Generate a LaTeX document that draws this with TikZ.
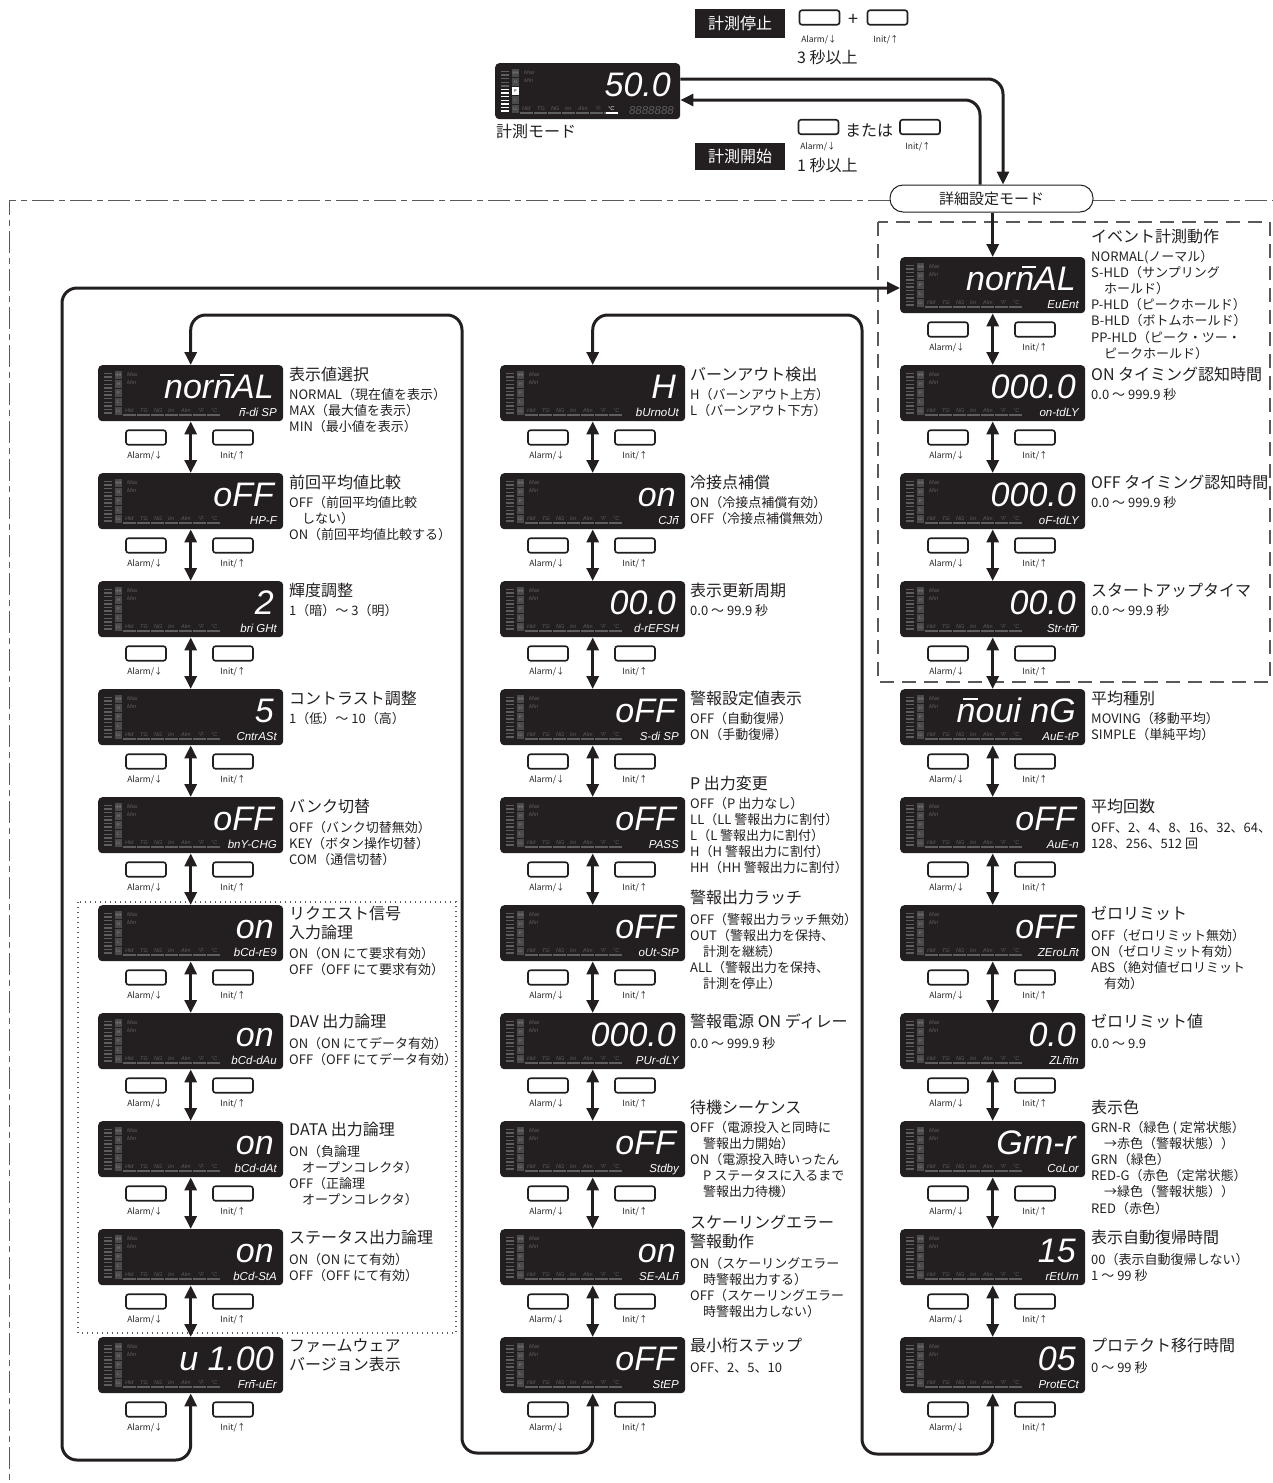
\documentclass[tikz,border=0pt]{standalone}
\usepackage{fontspec}
\setmainfont{Noto Sans CJK JP}
\newfontfamily\segfont{Liberation Sans}
\usetikzlibrary{arrows.meta}
\definecolor{ink}{HTML}{231F20}
\definecolor{lcdbg}{HTML}{231F20}
\definecolor{lcdg}{HTML}{5E5E5E}
\definecolor{indf}{HTML}{4A4A4A}
\definecolor{framec}{HTML}{58595B}
\newcommand\segm[1]{\ooalign{#1\cr\hidewidth\kern0.25em\rule[0.65em]{0.42em}{0.07em}\hidewidth\cr}}
\newcommand\indx{\hspace*{1em}}
\tikzset{
 lcdbox/.style={fill=lcdbg, rounded corners=4pt, minimum width=185pt, minimum height=56pt, inner sep=0pt, anchor=north west},
 bigval/.style={text=white, font=\segfont\itshape\fontsize{34}{34}\selectfont, inner sep=0pt, anchor=base east},
 subval/.style={text=white, font=\segfont\itshape\fontsize{11.5}{11.5}\selectfont, inner sep=0pt, anchor=base east},
 indbox/.style={fill=indf, minimum width=7pt, minimum height=7.5pt, inner sep=0pt, text=lcdg!70!white, font=\segfont\fontsize{4}{4}\selectfont},
 lcdsm/.style={text=lcdg, font=\segfont\itshape\fontsize{5.5}{5.5}\selectfont, inner sep=0pt},
 keybtn/.style={draw=ink, line width=1.6pt, fill=white, rounded corners=2.5pt, minimum width=40pt, minimum height=14.5pt, inner sep=0pt},
 keylab/.style={text=ink, font=\fontsize{8.5}{8.5}\selectfont, inner sep=0pt},
 ttl/.style={text=ink, font=\fontsize{16}{19}\selectfont, align=left, inner sep=0pt, anchor=north west},
 dsc/.style={text=ink, font=\fontsize{13}{16.2}\selectfont, align=left, inner sep=0pt, anchor=north west},
 flow/.style={draw=ink, line width=3pt, rounded corners=15pt},
 dbl/.style={draw=ink, line width=3pt, <->},
 blk/.style={fill=ink, text=white, font=\fontsize{16}{16}\selectfont, minimum width=90pt, minimum height=29pt, inner sep=0pt},
 lbl/.style={text=ink, font=\fontsize{16}{16}\selectfont, inner sep=0pt},
 dashdot/.style={draw=framec, line width=1pt, dash pattern=on 22pt off 5pt on 6pt off 5pt},
}
\newcommand\lcdx[5]{%
 \node[lcdbox] (#1) at (#2,#3) {};
 \begin{scope}[shift={(#2,#3)}]
  \foreach \k in {0,...,11}{\draw[lcdg, line width=1.5pt] (6,{8.5+3.6*\k}) -- (14,{8.5+3.6*\k});}
  \foreach \lab [count=\k from 0] in {HH,H,P,L,LL}{\node[indbox] (#1-i\k) at (20.5,{10+9*\k}) {\lab};}
  \node[lcdsm, anchor=west] (#1-mx) at (29,9.5) {Max};
  \node[lcdsm, anchor=west] (#1-mn) at (29,17.5) {Min};
  \foreach \lab/\xx [count=\k] in {Hld/27,TG/42,NG/56,Ini/70,Alm/83,°F/100,°C/113}{\node[lcdsm, anchor=base west] (#1-b\k) at (\xx,47) {\lab};}
  \draw[lcdg, line width=1.3pt, dash pattern=on 12.5pt off 1.5pt] (25,50) -- (123,50);
  \node[bigval] (#1-v) at (176,33) {#4};
  \node[subval] (#1-s) at (179,51.5) {#5};
 \end{scope}}
\newcommand\unitx[5]{\lcdx{#1}{#2}{#3}{#4}{#5}%
 \node[keybtn] (#1-ka) at ({#2+48},{#3+72.5}) {};
 \node[keybtn] (#1-kb) at ({#2+135},{#3+72.5}) {};
 \node[keylab] (#1-la) at ({#2+47},{#3+91}) {Alarm/↓};
 \node[keylab] (#1-lb) at ({#2+135},{#3+91}) {Init/↑};}
\newcommand\ttlx[4]{\node[ttl] (#1) at (#2,{#3-8}) {\rule{0pt}{14pt}#4};}
\newcommand\dscx[4]{\node[dsc] (#1) at (#2,{#3-6.5}) {\rule{0pt}{11.4pt}#4};}

\begin{document}
\begin{tikzpicture}[x=1pt,y=-1pt,>={Triangle[length=13pt,width=12pt]}]
\useasboundingbox (0,0) rectangle (1273,1483);

% ---------- frames ----------
\draw[dashdot] (890,200) -- (9,200) -- (9,1483);
\draw[dashdot] (1093,200) -- (1273,200);
\draw[draw=framec, line width=1.2pt, dash pattern=on 14pt off 8pt] (878,222) rectangle (1270,682);
\draw[draw=framec, line width=1.2pt, dash pattern=on 1pt off 4pt] (78,902) rectangle (456,1333);

% ---------- top: measurement mode ----------
\lcdx{meas}{495}{63}{50.0}{}
\begin{scope}[shift={(495,63)}]
 \foreach \k in {5,...,11}{\draw[white, line width=1.5pt] (6,{8.5+3.6*\k}) -- (14,{8.5+3.6*\k});}
 \node[indbox, fill=white, text=black] (meas-P) at (20.5,28) {P};
 \fill[lcdbg] (111,39) rectangle (123,51);
 \node[lcdsm, anchor=base west, text=white] (meas-C) at (113,47) {°C};
 \draw[white, line width=1.3pt] (111,50) -- (123,50);
 \node[subval, text=lcdg] (meas-8) at (179,51.5) {8888888};
\end{scope}
\node[lbl, anchor=west] (measlbl) at (496,131) {計測モード};

\node[blk] (stop) at (740,23.5) {計測停止};
\node[keybtn] (k1) at (819.5,17.5) {};
\node[keylab] (k1l) at (819,40) {Alarm/↓};
\node[lbl, font=\fontsize{18}{18}\selectfont] (plus) at (853,20) {+};
\node[keybtn] (k2) at (887.5,17.5) {};
\node[keylab] (k2l) at (886,40) {Init/↑};
\node[lbl, anchor=west] (sec3) at (797,57) {3 秒以上};

\node[blk, minimum height=27pt] (start) at (740,156.5) {計測開始};
\node[keybtn] (k3) at (818.5,127) {};
\node[keylab] (k3l) at (818,147) {Alarm/↓};
\node[lbl] (mata) at (869,131) {または};
\node[keybtn] (k4) at (920,127) {};
\node[keylab] (k4l) at (918,147) {Init/↑};
\node[lbl, anchor=west] (sec1) at (797,165) {1 秒以上};

\node[draw=ink, line width=1pt, fill=white, rounded corners=13pt, minimum width=203pt, minimum height=27pt, inner sep=0pt, font=\fontsize{15}{15}\selectfont, text=ink] (adv) at (991.5,198.5) {詳細設定モード};

% ---------- column 1 ----------
\unitx{c1p0}{98}{365}{nor\segm{n}AL}{\segm{n}-di SP}
\ttlx{c1t0}{289}{374}{表示値選択}
\dscx{c1d0}{289}{394}{NORMAL（現在値を表示）\\MAX（最大値を表示）\\MIN（最小値を表示）}
\unitx{c1p1}{98}{473}{oFF}{HP-F}
\ttlx{c1t1}{289}{482}{前回平均値比較}
\dscx{c1d1}{289}{502}{OFF（前回平均値比較\\\indx しない）\\ON（前回平均値比較する）}
\unitx{c1p2}{98}{581}{2}{bri GHt}
\ttlx{c1t2}{289}{590}{輝度調整}
\dscx{c1d2}{289}{610}{1（暗）～ 3（明）}
\unitx{c1p3}{98}{689}{5}{CntrASt}
\ttlx{c1t3}{289}{698}{コントラスト調整}
\dscx{c1d3}{289}{718}{1（低）～ 10（高）}
\unitx{c1p4}{98}{797}{oFF}{bnY-CHG}
\ttlx{c1t4}{289}{806}{バンク切替}
\dscx{c1d4}{289}{827}{OFF（バンク切替無効）\\KEY（ボタン操作切替）\\COM（通信切替）}
\unitx{c1p5}{98}{905}{on}{bCd-rE9}
\ttlx{c1t5}{289}{913}{リクエスト信号\\入力論理}
\dscx{c1d5}{289}{953}{ON（ON にて要求有効）\\OFF（OFF にて要求有効）}
\unitx{c1p6}{98}{1013}{on}{bCd-dAu}
\ttlx{c1t6}{289}{1021}{DAV 出力論理}
\dscx{c1d6}{289}{1043}{ON（ON にてデータ有効）\\OFF（OFF にてデータ有効）}
\unitx{c1p7}{98}{1121}{on}{bCd-dAt}
\ttlx{c1t7}{289}{1129}{DATA 出力論理}
\dscx{c1d7}{289}{1151}{ON（負論理\\\indx オープンコレクタ）\\OFF（正論理\\\indx オープンコレクタ）}
\unitx{c1p8}{98}{1229}{on}{bCd-StA}
\ttlx{c1t8}{289}{1237}{ステータス出力論理}
\dscx{c1d8}{289}{1259}{ON（ON にて有効）\\OFF（OFF にて有効）}
\unitx{c1p9}{98}{1337}{u 1.00}{Fr\segm{n}-uEr}
\ttlx{c1t9}{289}{1345}{ファームウェア\\バージョン表示}

% ---------- column 2 ----------
\unitx{c2p0}{500}{365}{H}{bUrnoUt}
\ttlx{c2t0}{690}{374}{バーンアウト検出}
\dscx{c2d0}{690}{394}{H（バーンアウト上方）\\L（バーンアウト下方）}
\unitx{c2p1}{500}{473}{on}{CJ\segm{n}}
\ttlx{c2t1}{690}{482}{冷接点補償}
\dscx{c2d1}{690}{502}{ON（冷接点補償有効）\\OFF（冷接点補償無効）}
\unitx{c2p2}{500}{581}{00.0}{d-rEFSH}
\ttlx{c2t2}{690}{590}{表示更新周期}
\dscx{c2d2}{690}{610}{0.0 ～ 99.9 秒}
\unitx{c2p3}{500}{689}{oFF}{S-di SP}
\ttlx{c2t3}{690}{698}{警報設定値表示}
\dscx{c2d3}{690}{718}{OFF（自動復帰）\\ON（手動復帰）}
\unitx{c2p4}{500}{797}{oFF}{PASS}
\ttlx{c2t4}{690}{783}{P 出力変更}
\dscx{c2d4}{690}{803}{OFF（P 出力なし）\\LL（LL 警報出力に割付）\\L（L 警報出力に割付）\\H（H 警報出力に割付）\\HH（HH 警報出力に割付）}
\unitx{c2p5}{500}{905}{oFF}{oUt-StP}
\ttlx{c2t5}{690}{897}{警報出力ラッチ}
\dscx{c2d5}{690}{919}{OFF（警報出力ラッチ無効）\\OUT（警報出力を保持、\\\indx 計測を継続）\\ALL（警報出力を保持、\\\indx 計測を停止）}
\unitx{c2p6}{500}{1013}{000.0}{PUr-dLY}
\ttlx{c2t6}{690}{1021}{警報電源 ON ディレー}
\dscx{c2d6}{690}{1043}{0.0 ～ 999.9 秒}
\unitx{c2p7}{500}{1121}{oFF}{Stdby}
\ttlx{c2t7}{690}{1107}{待機シーケンス}
\dscx{c2d7}{690}{1127}{OFF（電源投入と同時に\\\indx 警報出力開始）\\ON（電源投入時いったん\\\indx P ステータスに入るまで\\\indx 警報出力待機）}
\unitx{c2p8}{500}{1229}{on}{SE-AL\segm{n}}
\ttlx{c2t8}{690}{1222}{スケーリングエラー\\警報動作}
\dscx{c2d8}{690}{1263}{ON（スケーリングエラー\\\indx 時警報出力する）\\OFF（スケーリングエラー\\\indx 時警報出力しない）}
\unitx{c2p9}{500}{1337}{oFF}{StEP}
\ttlx{c2t9}{690}{1345}{最小桁ステップ}
\dscx{c2d9}{690}{1367}{OFF、2、5、10}

% ---------- column 3 ----------
\unitx{c3p0}{900}{257}{nor\segm{n}AL}{EuEnt}
\ttlx{c3t0}{1091}{236}{イベント計測動作}
\dscx{c3d0}{1091}{256}{NORMAL(ノーマル）\\S-HLD（サンプリング\\\indx ホールド）\\P-HLD（ピークホールド）\\B-HLD（ボトムホールド）\\PP-HLD（ピーク・ツー・\\\indx ピークホールド）}
\unitx{c3p1}{900}{365}{000.0}{on-tdLY}
\ttlx{c3t1}{1091}{374}{ON タイミング認知時間}
\dscx{c3d1}{1091}{394}{0.0 ～ 999.9 秒}
\unitx{c3p2}{900}{473}{000.0}{oF-tdLY}
\ttlx{c3t2}{1091}{482}{OFF タイミング認知時間}
\dscx{c3d2}{1091}{502}{0.0 ～ 999.9 秒}
\unitx{c3p3}{900}{581}{00.0}{Str-t\segm{n}r}
\ttlx{c3t3}{1091}{590}{スタートアップタイマ}
\dscx{c3d3}{1091}{610}{0.0 ～ 99.9 秒}
\unitx{c3p4}{900}{689}{\segm{n}oui nG}{AuE-tP}
\ttlx{c3t4}{1091}{698}{平均種別}
\dscx{c3d4}{1091}{718}{MOVING（移動平均）\\SIMPLE（単純平均）}
\unitx{c3p5}{900}{797}{oFF}{AuE-n}
\ttlx{c3t5}{1091}{806}{平均回数}
\dscx{c3d5}{1091}{827}{OFF、2、4、8、16、32、64、\\128、256、512 回}
\unitx{c3p6}{900}{905}{oFF}{ZEroL\segm{n}t}
\ttlx{c3t6}{1091}{913}{ゼロリミット}
\dscx{c3d6}{1091}{935}{OFF（ゼロリミット無効）\\ON（ゼロリミット有効）\\ABS（絶対値ゼロリミット\\\indx 有効）}
\unitx{c3p7}{900}{1013}{0.0}{ZL\segm{n}tn}
\ttlx{c3t7}{1091}{1021}{ゼロリミット値}
\dscx{c3d7}{1091}{1043}{0.0 ～ 9.9}
\unitx{c3p8}{900}{1121}{Grn-r}{CoLor}
\ttlx{c3t8}{1091}{1107}{表示色}
\dscx{c3d8}{1091}{1127}{GRN-R（緑色 ( 定常状態）\\\indx →赤色（警報状態））\\GRN（緑色）\\RED-G（赤色（定常状態）\\\indx →緑色（警報状態））\\RED（赤色）}
\unitx{c3p9}{900}{1229}{15}{rEtUrn}
\ttlx{c3t9}{1091}{1237}{表示自動復帰時間}
\dscx{c3d9}{1091}{1259}{00（表示自動復帰しない）\\1 ～ 99 秒}
\unitx{c3p10}{900}{1337}{05}{ProtECt}
\ttlx{c3t10}{1091}{1345}{プロテクト移行時間}
\dscx{c3d10}{1091}{1367}{0 ～ 99 秒}

% ---------- connectors ----------
\foreach \i [evaluate=\i as \j using int(\i+1)] in {0,...,8}{
  \draw[dbl] (c1p\i.south) -- (c1p\j.north);
  \draw[dbl] (c2p\i.south) -- (c2p\j.north);
}
\foreach \i [evaluate=\i as \j using int(\i+1)] in {0,...,9}{
  \draw[dbl] (c3p\i.south) -- (c3p\j.north);
}
\draw[flow, <->] (c1p9.south) -- (c1p9.south |- 0,1460) -- (62,1460) -- (62,288) -- (c3p0.west |- 0,288);
\draw[flow, <->] (c2p9.south) -- (c2p9.south |- 0,1453) -- (462,1453) -- (462,315) -- (c1p0.north |- 0,315) -- (c1p0.north);
\draw[flow, <->] (c3p10.south) -- (c3p10.south |- 0,1454) -- (862,1454) -- (862,315) -- (c2p0.north |- 0,315) -- (c2p0.north);
\draw[flow, ->] (meas.east |- 0,79) -- (1003,79) -- (adv.north -| 1003,0);
\draw[flow, ->] (adv.north -| 980,0) -- (980,100) -- (meas.east |- 0,100);
\draw[draw=ink, line width=3pt, ->] (adv.south -| c3p0.north) -- (c3p0.north);
\end{tikzpicture}
\end{document}
